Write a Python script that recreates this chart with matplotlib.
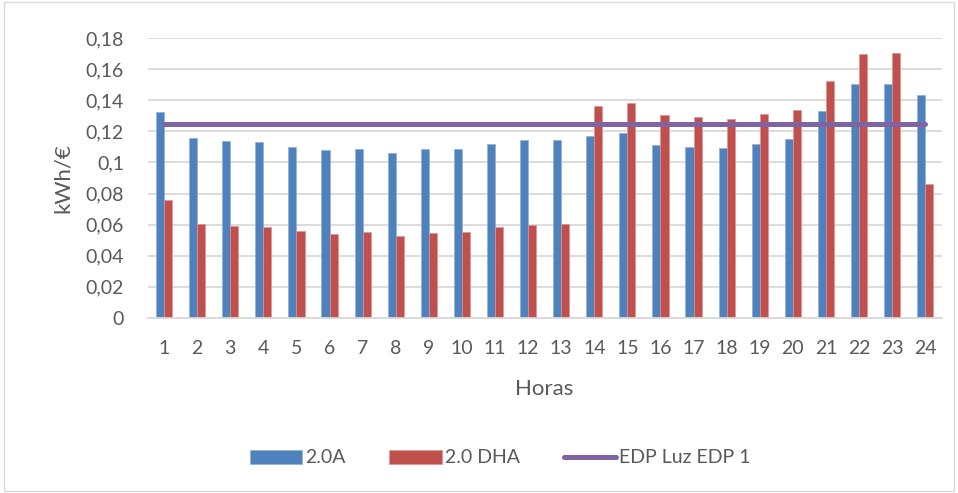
import matplotlib
matplotlib.use("Agg")
import matplotlib.pyplot as plt
import numpy as np
from matplotlib.patches import Rectangle

plt.rcParams['font.family'] = ['Lato', 'DejaVu Sans']

hours = [str(h) for h in range(1, 25)]
tarifa_20a = [0.1321, 0.1158, 0.1136, 0.1130, 0.1100, 0.1081, 0.1087, 0.1059,
              0.1085, 0.1089, 0.1121, 0.1141, 0.1147, 0.1169, 0.1186, 0.1115,
              0.1100, 0.1091, 0.1121, 0.1149, 0.1332, 0.1504, 0.1506, 0.1431]
tarifa_20dha = [0.0758, 0.0606, 0.0589, 0.0584, 0.0561, 0.0541, 0.0552, 0.0526,
                0.0546, 0.0552, 0.0584, 0.0599, 0.0604, 0.1362, 0.1379, 0.1306,
                0.1293, 0.1280, 0.1310, 0.1338, 0.1521, 0.1699, 0.1706, 0.0861]
edp_luz = [0.1246] * 24
yticks = [0, 0.02, 0.04, 0.06, 0.08, 0.10, 0.12, 0.14, 0.16, 0.18]
ytick_labels = ['0', '0,02', '0,04', '0,06', '0,08', '0,1', '0,12', '0,14', '0,16', '0,18']

fig = plt.figure(figsize=(9.58, 4.93), dpi=100)
ax = fig.add_axes([0.154, 0.355, 0.829, 0.568])

x = np.arange(len(hours))
w = 0.245
b1 = ax.bar(x - w/2, tarifa_20a, width=w, color='#4F81BD', edgecolor='#8FB0DA', linewidth=0.5, label='2.0A', zorder=2)
b2 = ax.bar(x + w/2, tarifa_20dha, width=w, color='#C0504D', edgecolor='#DC9492', linewidth=0.5, label='2.0 DHA', zorder=2)
l1, = ax.plot(x, edp_luz, color='#8064A2', linewidth=3.6, solid_capstyle='round', label='EDP Luz EDP 1', zorder=3)

ax.set_xlim(-0.5, 23.5)
ax.set_ylim(0, 0.18)
ax.set_yticks(yticks)
ax.set_yticklabels(ytick_labels, fontsize=14, color='#595959')
ax.set_xticks(x)
ax.set_xticklabels(hours, fontsize=14, color='#595959')
ax.tick_params(axis='both', length=0)
ax.tick_params(axis='y', pad=17)
ax.tick_params(axis='x', pad=16)
ax.yaxis.grid(True, color='#D9D9D9', linewidth=1.3, zorder=0)
ax.set_axisbelow(True)
for s in ['top', 'right', 'left']:
    ax.spines[s].set_visible(False)
ax.spines['bottom'].set_color('#D9D9D9')
ax.spines['bottom'].set_linewidth(1.3)

ax.set_ylabel('kWh/€', fontsize=16, color='#595959', labelpad=9)
ax.set_xlabel('Horas', fontsize=16, color='#595959', labelpad=16)

fig.legend(handles=[b1, b2, l1], loc='center', bbox_to_anchor=(0.522, 0.071), ncol=3,
           frameon=False, fontsize=14, handlelength=2.7, handleheight=0.75,
           handletextpad=0.15, columnspacing=2.25, labelcolor='#595959')

fig.patches.append(Rectangle((0.004, 0.004), 0.992, 0.992, transform=fig.transFigure,
                             fill=False, edgecolor='#D9D9D9', linewidth=1.0))

fig.savefig('out.png', dpi=100)
